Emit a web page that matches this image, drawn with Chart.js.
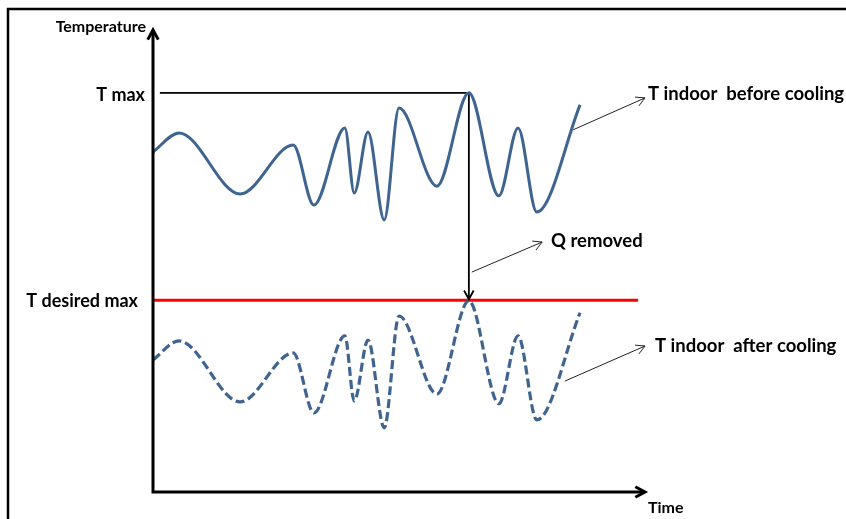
<!DOCTYPE html>
<html>
<head>
<meta charset="utf-8">
<script src="https://cdn.jsdelivr.net/npm/chart.js@4"></script>
<style>
  body { margin: 0; background: #fff; }
  #wrap { width: 846px; height: 519px; }
</style>
</head>
<body>
<div id="wrap"><canvas id="tempChart" width="846" height="519"></canvas></div>
<script>
// time axis 0..100, temperature axis 0..100 (arbitrary units)
const timePoints = [0, 5.3, 17.7, 28.5, 32.7, 39.0, 40.9, 43.7, 47.0, 50.0, 57.7, 64.2, 70.3, 74.2, 78.0, 86.8];
const tempBefore = [73.6, 77.7, 64.5, 75.1, 62.1, 78.8, 64.7, 77.9, 58.9, 83.1, 66.2, 86.4, 64.1, 78.8, 60.6, 83.8];
const tempAfter  = [28.6, 32.7, 19.5, 30.1, 17.1, 33.8, 19.7, 32.9, 13.9, 38.1, 21.2, 41.4, 19.1, 33.8, 15.6, 38.8];

const tMax = 86.4;
const tDesiredMax = 41.5;
const peakTime = 64.2;
const redLineEnd = 98.6;

const blue = '#3f6490';

function toXY(xs, ys) {
    return xs.map((x, i) => ({ x: x, y: ys[i] }));
}

function arrowHead(ctx, x1, y1, x2, y2, size) {
    const a = Math.atan2(y2 - y1, x2 - x1);
    ctx.beginPath();
    ctx.moveTo(x2 - size * Math.cos(a - 0.5), y2 - size * Math.sin(a - 0.5));
    ctx.lineTo(x2, y2);
    ctx.lineTo(x2 - size * Math.cos(a + 0.5), y2 - size * Math.sin(a + 0.5));
    ctx.stroke();
}

const diagramPlugin = {
    id: 'diagram',
    afterDatasetsDraw(chart) {
        const ctx = chart.ctx;
        const xs = chart.scales.x, ys = chart.scales.y;
        const px = v => xs.getPixelForValue(v);
        const py = v => ys.getPixelForValue(v);
        const area = chart.chartArea;
        ctx.save();
        ctx.lineCap = 'butt';

        // frame
        ctx.strokeStyle = '#000';
        ctx.lineWidth = 2.5;
        ctx.beginPath();
        ctx.moveTo(8, 519);
        ctx.lineTo(8, 9);
        ctx.lineTo(846, 9);
        ctx.stroke();

        // axes
        ctx.lineWidth = 3;
        ctx.beginPath();
        ctx.moveTo(area.left, area.bottom);
        ctx.lineTo(area.left, area.top);
        ctx.moveTo(area.left - 1.5, area.bottom);
        ctx.lineTo(area.right, area.bottom);
        ctx.stroke();
        arrowHead(ctx, area.left, area.bottom, area.left, area.top, 11);
        arrowHead(ctx, area.left, area.bottom, area.right, area.bottom, 11);

        // Q removed vertical arrow head
        ctx.lineWidth = 1.8;
        arrowHead(ctx, px(peakTime), py(tMax), px(peakTime), py(tDesiredMax) - 1, 10);

        // annotation arrows
        ctx.strokeStyle = '#222';
        ctx.lineWidth = 1;
        const notes = [
            [85.4, 78.4, 100, 85.3],
            [64.8, 47.6, 79.1, 54.1],
            [83.7, 24.0, 100, 31.6]
        ];
        notes.forEach(n => {
            ctx.beginPath();
            ctx.moveTo(px(n[0]), py(n[1]));
            ctx.lineTo(px(n[2]), py(n[3]));
            ctx.stroke();
            arrowHead(ctx, px(n[0]), py(n[1]), px(n[2]), py(n[3]), 10);
        });

        // texts
        ctx.fillStyle = '#000';
        ctx.textBaseline = 'middle';
        ctx.textAlign = 'right';
        ctx.font = 'bold 16px Lato';
        ctx.fillText('Temperature', 146, 27);
        ctx.font = 'bold 18px Lato';
        ctx.fillText('T max', 145, py(tMax) + 2);
        ctx.fillText('T desired max', 138, py(tDesiredMax) + 1);
        ctx.textAlign = 'left';
        ctx.font = 'bold 18.5px Lato';
        ctx.fillText('T indoor  before cooling', 648, 94);
        ctx.fillText('Q removed', 551, 241);
        ctx.fillText('T indoor  after cooling', 655, 346);
        ctx.font = 'bold 16px Lato';
        ctx.fillText('Time', 648, 508);
        ctx.restore();
    }
};

new Chart(document.getElementById('tempChart'), {
    type: 'line',
    data: {
        datasets: [
            {
                data: toXY(timePoints, tempBefore),
                borderColor: blue,
                borderWidth: 3,
                cubicInterpolationMode: 'monotone'
            },
            {
                data: toXY(timePoints, tempAfter),
                borderColor: blue,
                borderWidth: 3.2,
                borderDash: [9, 4],
                cubicInterpolationMode: 'monotone'
            },
            {
                data: toXY([0, redLineEnd], [tDesiredMax, tDesiredMax]),
                borderColor: '#ff0000',
                borderWidth: 3
            },
            {
                data: toXY([1.4, peakTime], [tMax, tMax]),
                borderColor: '#000',
                borderWidth: 1.8
            },
            {
                data: toXY([peakTime, peakTime], [tMax, tDesiredMax]),
                borderColor: '#000',
                borderWidth: 1.8
            }
        ]
    },
    options: {
        responsive: false,
        animation: false,
        events: [],
        elements: { point: { radius: 0 } },
        layout: { padding: { left: 153, right: 201, top: 30, bottom: 27 } },
        plugins: {
            legend: { display: false },
            tooltip: { enabled: false }
        },
        scales: {
            x: { type: 'linear', display: false, min: 0, max: 100 },
            y: { type: 'linear', display: false, min: 0, max: 100 }
        }
    },
    plugins: [diagramPlugin]
});
</script>
</body>
</html>
